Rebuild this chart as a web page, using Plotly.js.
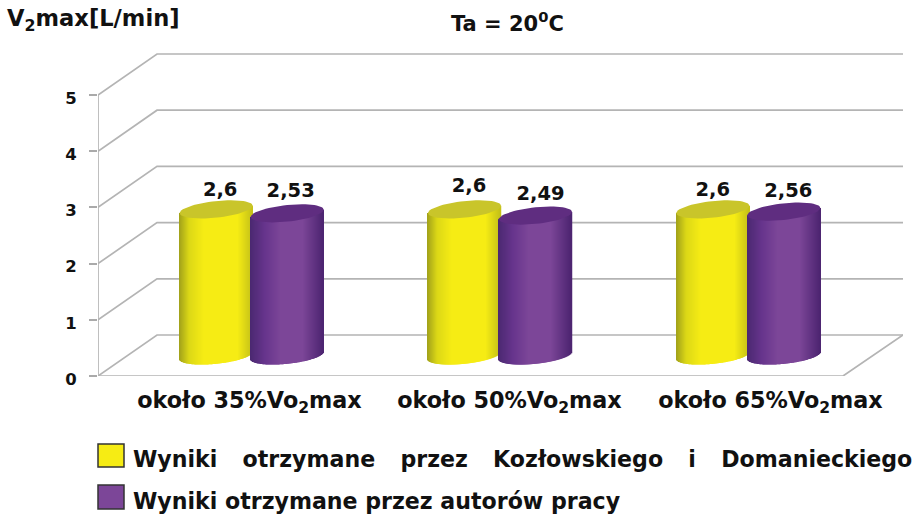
<!DOCTYPE html>
<html>
<head>
<meta charset="utf-8">
<script src="https://cdn.plot.ly/plotly-3.0.1.min.js"></script>
<style>html,body{margin:0;padding:0;background:#fff}#c{width:918px;height:518px}</style>
</head>
<body>
<div id="c"></div>
<script>
const categories = ['około 35%Vo<sub>2</sub>max', 'około 50%Vo<sub>2</sub>max', 'około 65%Vo<sub>2</sub>max'];
const GAP = '\u00A0\u00A0\u00A0\u200A';
const seriesNames = ['Wyniki' + GAP + 'otrzymane' + GAP + 'przez' + GAP + 'Kozłowskiego' + GAP + 'i' + GAP + 'Domanieckiego', 'Wyniki otrzymane przez autorów pracy'];
const kozlowski = [2.6, 2.6, 2.6];
const autorzy = [2.53, 2.49, 2.56];
const labelsA = ['2,6', '2,6', '2,6'];
const labelsB = ['2,53', '2,49', '2,56'];
const yTicks = [0, 1, 2, 3, 4, 5];

const FONT = '"DejaVu Sans", "Noto Sans", sans-serif';
const W = 918, H = 518;
const L = 98, R = 903, T = 50, B = 376;
const PXU = 248.33, PXV = 56.2;            // pixels per category / per unit
const DEPTHX = 59 / PXU, DEPTHY = 41 / PXV; // oblique depth
const XMAX = (R - L) / PXU, YMAX = (B - T) / PXV;
const FLOOR_END = (843 - L) / PXU;
const labelPos = [(249.5 - L) / PXU, (509.5 - L) / PXU, (770.5 - L) / PXU];
const nudgeAx = [4, 4.5, 0], nudgeAy = [18, 22, 18];
const nudgeBx = [3.5, 5, 4.5], nudgeBy = [21, 20, 20];

const yellowStops = [[0, '#a0a01a'], [0.14, '#dcd816'], [0.34, '#f6ec14'], [0.8, '#f6ec14'], [1, '#c4c018']];
const purpleStops = [[0, '#4a2870'], [0.2, '#66348c'], [0.42, '#7c4698'], [0.72, '#7c4698'], [1, '#4c2470']];
const capColors = ['#c9c52a', '#5f2d80'];

const A = 36.5 / PXU, Bq = 8.3 / PXV, SHEAR = 0.1 * PXU / PXV;
const NS = 73;

function hex(c) { return [1, 3, 5].map(i => parseInt(c.substr(i, 2), 16)); }
function mix(stops, t) {
  for (let i = 1; i < stops.length; i++) {
    if (t <= stops[i][0]) {
      const f = (t - stops[i - 1][0]) / (stops[i][0] - stops[i - 1][0]);
      const a = hex(stops[i - 1][1]), b = hex(stops[i][1]);
      return 'rgb(' + a.map((v, k) => Math.round(v + (b[k] - v) * f)).join(',') + ')';
    }
  }
  return stops[stops.length - 1][1];
}

const traces = [];

// walls and floor on the base axes
const gx = [], gy = [];
yTicks.forEach(v => {
  gx.push(0, DEPTHX, XMAX, null);
  gy.push(v, v + DEPTHY, v + DEPTHY, null);
});
gx.push(0, 0, null, 0, FLOOR_END, XMAX);
gy.push(0, 5, null, 0, 0, DEPTHY);
traces.push({type: 'scatter', mode: 'lines', x: gx, y: gy, xaxis: 'x', yaxis: 'y', cliponaxis: false,
  line: {color: '#b4b4b4', width: 1.7}, hoverinfo: 'skip', showlegend: false});

const midX = DEPTHX / 2, midY = DEPTHY / 2;
const pairShift = 35.5 / PXU;

function addSeries(values, side, stops, capColor, labels, ndx, ndy, name) {
  const cx = values.map((_, i) => i + 0.5 + midX + side * pairShift);
  traces.push({type: 'bar', x: cx, y: values, base: values.map(() => midY), width: 2 * A * 0.8,
    xaxis: 'x2', yaxis: 'y2', marker: {color: mix(stops, 0.5), line: {width: 0}}, name: name, hoverinfo: 'y', showlegend: false});
  const sx = [], sy = [], sb = [], sc = [], sw = [];
  values.forEach((v, i) => {
    for (let s = 0; s < NS; s++) {
      const t0 = s / NS, t1 = (s + 1) / NS, tm = (t0 + t1) / 2;
      const d = (tm * 2 - 1);
      const low = midY + d * A * SHEAR - Bq * Math.sqrt(Math.max(0, 1 - d * d));
      const top = midY + v + d * A * SHEAR;
      sx.push(cx[i] + d * A); sb.push(low); sy.push(top - low); sw.push(2 * A / NS * 1.5); sc.push(mix(stops, tm));
    }
  });
  traces.push({type: 'bar', x: sx, y: sy, base: sb, width: sw, xaxis: 'x2', yaxis: 'y2',
    marker: {color: sc, line: {width: 0}}, hoverinfo: 'skip', showlegend: false});
  values.forEach((v, i) => {
    const ex = [], ey = [];
    for (let k = 0; k <= 60; k++) {
      const th = k / 60 * 2 * Math.PI, c = Math.cos(th), sn = Math.sin(th);
      ex.push(cx[i] + A * c);
      ey.push(midY + v + c * A * SHEAR + Bq * sn);
    }
    traces.push({type: 'scatter', mode: 'lines', x: ex, y: ey, xaxis: 'x2', yaxis: 'y2', fill: 'toself',
      fillcolor: capColor, line: {width: 0, color: capColor}, hoverinfo: 'skip', showlegend: false});
  });
  traces.push({type: 'scatter', mode: 'text', xaxis: 'x2', yaxis: 'y2', cliponaxis: false,
    x: cx.map((c, i) => c + ndx[i] / PXU), y: values.map((v, i) => midY + v + ndy[i] / PXV),
    text: labels, textposition: 'middle center', textfont: {family: FONT, size: 19.5, color: '#111', weight: 700},
    hoverinfo: 'skip', showlegend: false});
}
addSeries(kozlowski, -1, yellowStops, capColors[0], labelsA, nudgeAx, nudgeAy, seriesNames[0]);
addSeries(autorzy, 1, purpleStops, capColors[1], labelsB, nudgeBx, nudgeBy, seriesNames[1]);

const boldFont = sz => ({family: FONT, size: sz, color: '#111', weight: 700});
function ann(text, x, y, size, xanchor) {
  return {text: text, xref: 'paper', yref: 'paper', x: (x - L) / (R - L), y: (B - y) / (B - T),
    xanchor: xanchor || 'left', yanchor: 'middle', showarrow: false, font: boldFont(size)};
}
function swatch(x0, y0, x1, y1, color) {
  return {type: 'rect', xref: 'paper', yref: 'paper',
    x0: (x0 - L) / (R - L), x1: (x1 - L) / (R - L), y0: (B - y0) / (B - T), y1: (B - y1) / (B - T),
    fillcolor: color, line: {color: '#333', width: 1.5}};
}

const layout = {
  width: W, height: H, margin: {l: L, r: W - R, t: T, b: H - B, pad: 0},
  paper_bgcolor: '#fff', plot_bgcolor: 'rgba(0,0,0,0)', barmode: 'overlay', showlegend: false,
  xaxis: {range: [0, XMAX], tickmode: 'array', tickvals: labelPos, ticktext: categories, ticks: '', showgrid: false,
    zeroline: false, showline: false, tickfont: boldFont(22.3), ticklabelstandoff: 9, fixedrange: true},
  yaxis: {range: [0, YMAX], tickmode: 'array', tickvals: yTicks, ticktext: yTicks.map(String), ticks: 'outside', ticklen: 8,
    tickwidth: 1.5, tickcolor: '#aaa', showgrid: false, zeroline: false, showline: false, tickfont: boldFont(16.5),
    ticklabelstandoff: 9, ticklabelshift: 3, fixedrange: true},
  xaxis2: {range: [0, XMAX], overlaying: 'x', anchor: 'y2', visible: false, fixedrange: true},
  yaxis2: {range: [0, YMAX], overlaying: 'y', anchor: 'x2', visible: false, fixedrange: true},
  shapes: [swatch(98, 444, 124, 467, '#f6ec14'), swatch(98, 485, 124, 509, '#7c4698')],
  annotations: [
    ann('V<sub>2</sub>max[L/min]', 5, 20, 22.6),
    ann('Ta = 20<sup>0</sup>C', 449, 22, 21),
    ann(seriesNames[0], 131, 459, 22.1),
    ann(seriesNames[1], 131, 501, 22.1)
  ]
};
Plotly.newPlot('c', traces, layout, {displayModeBar: false, responsive: false});
</script>
</body>
</html>
